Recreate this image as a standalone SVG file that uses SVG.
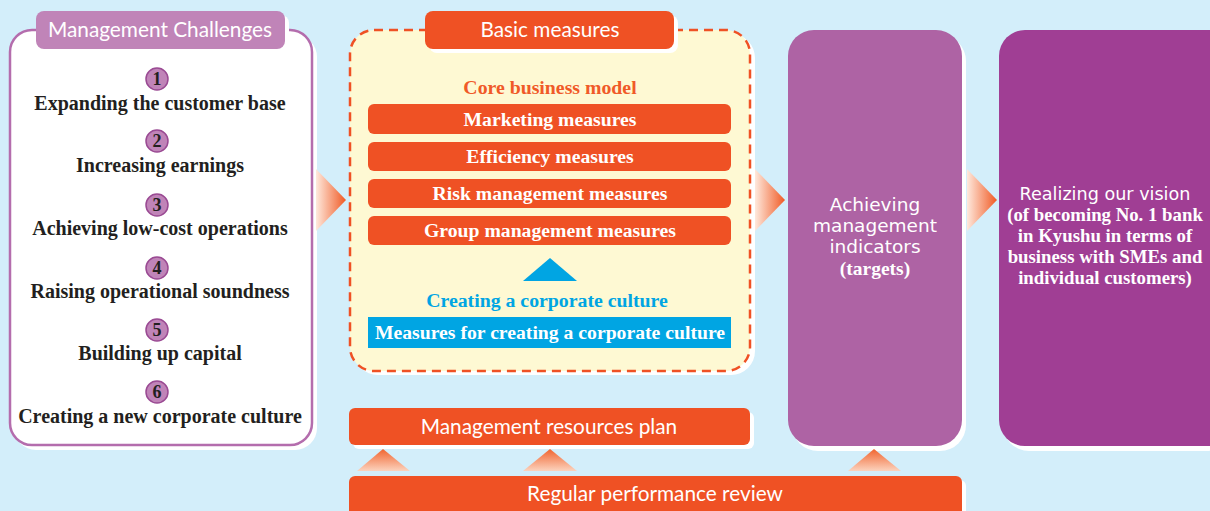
<svg xmlns="http://www.w3.org/2000/svg" width="1210" height="511" viewBox="0 0 1210 511">
  <defs>
    <linearGradient id="gradRight" x1="0" y1="0" x2="1" y2="0">
      <stop offset="0" stop-color="#FEE9DD"/>
      <stop offset="1" stop-color="#F05A24"/>
    </linearGradient>
    <linearGradient id="gradUp" x1="0" y1="1" x2="0" y2="0">
      <stop offset="0" stop-color="#FCD3BE"/>
      <stop offset="1" stop-color="#F1642F"/>
    </linearGradient>
    <style>
      .sans { font-family: Lato, "Open Sans", "Liberation Sans", sans-serif; }
      .wide { font-family: "DejaVu Sans", "Liberation Sans", sans-serif; }
      .serif { font-family: "Liberation Serif", "DejaVu Serif", serif; font-weight: bold; }
      .item { font-size: 20px; fill: #231F20; text-anchor: middle; }
      .num { font-size: 18px; fill: #231F20; text-anchor: middle; }
      .badge { fill: #C084B8; stroke: #9A4A93; stroke-width: 1.5; }
      .bar { fill: #EF5124; }
      .barText { font-size: 19.7px; fill: #FFFFFF; text-anchor: middle; }
      .shadow { fill: #FFFFFF; }
      .white { fill: #FFFFFF; text-anchor: middle; }
    </style>
  </defs>

  <!-- background -->
  <rect x="0" y="0" width="1210" height="511" fill="#D3EEFA"/>

  <!-- Management Challenges panel -->
  <g id="management-challenges">
    <rect class="shadow" x="14" y="35" width="303" height="415" rx="22"/>
    <rect x="10" y="30" width="302" height="415" rx="22" fill="#FFFFFF" stroke="#B46DAD" stroke-width="2.5"/>
    <rect class="shadow" x="40" y="15" width="249" height="38" rx="8"/>
    <rect x="36" y="11" width="249" height="38" rx="8" fill="#C084B8"/>
    <text class="sans white" x="160" y="37" font-size="20.8">Management Challenges</text>

    <circle class="badge" cx="157" cy="79" r="11"/>
    <text class="serif num" x="157" y="85">1</text>
    <text class="serif item" x="160" y="110">Expanding the customer base</text>

    <circle class="badge" cx="157" cy="141" r="11"/>
    <text class="serif num" x="157" y="147">2</text>
    <text class="serif item" x="160" y="172">Increasing earnings</text>

    <circle class="badge" cx="157" cy="205" r="11"/>
    <text class="serif num" x="157" y="211">3</text>
    <text class="serif item" x="160" y="235">Achieving low-cost operations</text>

    <circle class="badge" cx="157" cy="268" r="11"/>
    <text class="serif num" x="157" y="274">4</text>
    <text class="serif item" x="160" y="298">Raising operational soundness</text>

    <circle class="badge" cx="157" cy="330" r="11"/>
    <text class="serif num" x="157" y="336">5</text>
    <text class="serif item" x="160" y="360">Building up capital</text>

    <circle class="badge" cx="157" cy="392" r="11"/>
    <text class="serif num" x="157" y="398">6</text>
    <text class="serif item" x="160" y="423">Creating a new corporate culture</text>
  </g>

  <!-- Basic measures panel -->
  <g id="basic-measures">
    <rect class="shadow" x="354" y="34" width="401" height="341" rx="24"/>
    <rect x="350" y="30" width="400" height="341" rx="24" fill="#FEF9D3" stroke="#EF5124" stroke-width="2.5" stroke-dasharray="9 6"/>
    <rect class="shadow" x="429" y="15" width="249" height="38" rx="8"/>
    <rect x="425" y="11" width="249" height="38" rx="8" fill="#EF5124"/>
    <text class="sans white" x="550" y="37" font-size="20.8">Basic measures</text>

    <text class="serif" x="550" y="94" font-size="19.8" fill="#F05A28" text-anchor="middle">Core business model</text>

    <rect class="bar" x="368" y="104" width="363" height="30" rx="6"/>
    <text class="serif barText" x="550" y="126">Marketing measures</text>
    <rect class="bar" x="368" y="142" width="363" height="29" rx="6"/>
    <text class="serif barText" x="550" y="163">Efficiency measures</text>
    <rect class="bar" x="368" y="179" width="363" height="29" rx="6"/>
    <text class="serif barText" x="550" y="200">Risk management measures</text>
    <rect class="bar" x="368" y="216" width="363" height="29" rx="6"/>
    <text class="serif barText" x="550" y="237">Group management measures</text>

    <polygon points="523,281 550,258 577,281" fill="#00A5E3"/>

    <text class="serif" x="547" y="307" font-size="19.8" fill="#00A5E3" text-anchor="middle">Creating a corporate culture</text>
    <rect x="368" y="317" width="363" height="31" fill="#00A5E3"/>
    <text class="serif barText" x="550" y="339">Measures for creating a corporate culture</text>
  </g>

  <!-- Achieving management indicators panel -->
  <g id="management-indicators">
    <rect class="shadow" x="792" y="35" width="174" height="416" rx="26"/>
    <rect x="788" y="30" width="174" height="416" rx="26" fill="#AE63A4"/>
    <text class="wide white" x="875" y="211" font-size="18.5">Achieving</text>
    <text class="wide white" x="875" y="232" font-size="18.5">management</text>
    <text class="wide white" x="875" y="253" font-size="18.5">indicators</text>
    <text class="serif white" x="875" y="275" font-size="19.5">(targets)</text>
  </g>

  <!-- Realizing our vision panel -->
  <g id="vision">
    <rect class="shadow" x="1003" y="35" width="230" height="416" rx="26"/>
    <rect x="999" y="30" width="240" height="416" rx="26" fill="#A03E94"/>
    <text class="wide white" x="1105" y="200" font-size="17.6">Realizing our vision</text>
    <text class="serif white" x="1105" y="221" font-size="18.8">(of becoming No. 1 bank</text>
    <text class="serif white" x="1105" y="242" font-size="18.8">in Kyushu in terms of</text>
    <text class="serif white" x="1105" y="263" font-size="18.8">business with SMEs and</text>
    <text class="serif white" x="1105" y="284" font-size="18.8">individual customers)</text>
  </g>

  <!-- Management resources plan -->
  <g id="resources-plan">
    <rect class="shadow" x="353" y="412" width="401" height="37" rx="6"/>
    <rect class="bar" x="349" y="408" width="401" height="37" rx="6"/>
    <text class="sans white" x="549" y="434" font-size="20.8">Management resources plan</text>
  </g>

  <!-- Regular performance review -->
  <g id="performance-review">
    <rect class="shadow" x="353" y="480" width="613" height="45" rx="6"/>
    <rect class="bar" x="349" y="476" width="613" height="45" rx="6"/>
    <text class="sans white" x="655" y="501" font-size="20.8">Regular performance review</text>
  </g>

  <!-- flow arrows -->
  <g id="connectors">
    <polygon points="316,169 346,200 316,231" fill="url(#gradRight)"/>
    <polygon points="755,169 785,200 755,231" fill="url(#gradRight)"/>
    <polygon points="967,169 997,200 967,231" fill="url(#gradRight)"/>
    <polygon points="357,471 383,449 410,471" fill="url(#gradUp)"/>
    <polygon points="523,471 550,449 577,471" fill="url(#gradUp)"/>
    <polygon points="848,471 874,449 901,471" fill="url(#gradUp)"/>
  </g>
</svg>
